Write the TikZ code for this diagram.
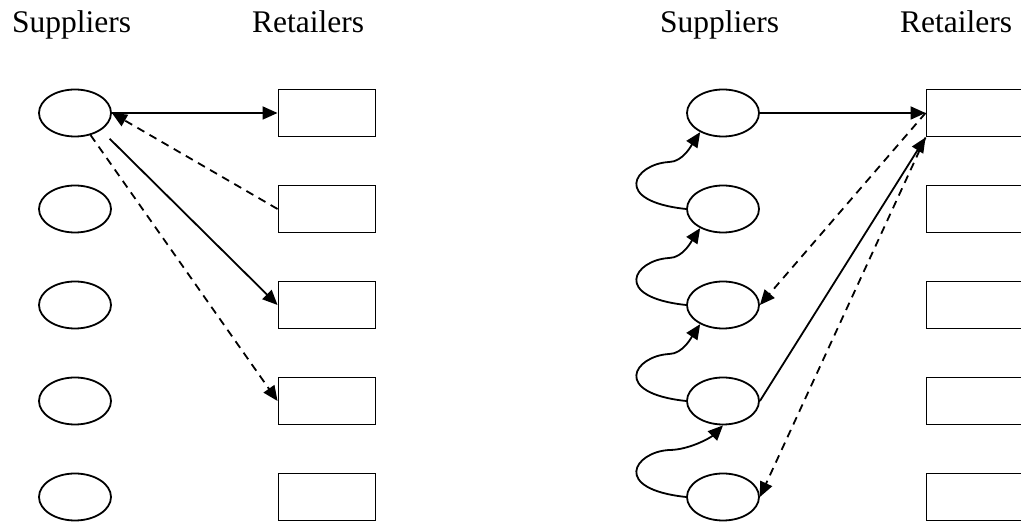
\documentclass[tikz,border=0pt]{standalone}
\usepackage{fontspec}
\setmainfont{Liberation Serif}
\usetikzlibrary{shapes.geometric,arrows.meta}
\newcommand{\off}{648}
\tikzset{
  sup/.style={ellipse,draw,line width=1.8pt,minimum width=72pt,minimum height=47pt,inner sep=0pt},
  ret/.style={rectangle,draw,line width=1.9pt,minimum width=97pt,minimum height=47pt,inner sep=0pt},
  head/.style={anchor=base west,inner sep=0pt,font=\fontsize{31.5}{36}\selectfont},
  link/.style={line width=1.8pt,-{Triangle[length=15pt,width=13pt]}},
  back/.style={link,dash pattern=on 8pt off 6pt}
}

\begin{document}
\begin{tikzpicture}[x=1pt,y=1pt]
\useasboundingbox (0,0) rectangle (1021,522);
\clip (0,0) rectangle (1021,522);
% headings
\node[head] (hs) at (12,489) {Suppliers};
\node[head] (hr) at (252,489) {Retailers};
\node[head] (hs2) at (12+\off,489) {Suppliers};
\node[head] (hr2) at (252+\off,489) {Retailers};
% suppliers and retailers
\foreach \i in {1,...,5}{
\node[sup] (s\i) at (75,{505-96*\i}) {};
\node[ret] (r\i) at (327,{505-96*\i}) {};
\node[sup] (t\i) at (75+\off,{505-96*\i}) {};
\node[ret] (q\i) at (327+\off,{505-96*\i}) {};
}
% left
\draw[link] (s1) -- (r1);
\draw[back] (r2.west) -- (s1.east);
\draw[link,shorten <=12pt] (s1.south east) -- (r3.west);
\draw[back] (s1) -- (r4.west);
% right
\draw[link] (t1) -- (q1);
\draw[back] (q1.west) -- (t3.east);
\draw[link] (t4.east) -- (q1.south west);
\draw[back] (q1.south west) -- (t5.east);
\foreach \i/\j in {2/1,3/2,4/3}{
\draw[link] (t\i.west) .. controls +(-75,8) and +(-35,-2) .. ++(-17,47)
  .. controls +(14,0) and +(-8,-12) .. (t\j.220);
}
\draw[link] (t5.west) .. controls +(-75,8) and +(-35,-2) .. ++(-17,47)
  .. controls +(20,0) and +(-12,-12) .. (t4.south);
\end{tikzpicture}
\end{document}
